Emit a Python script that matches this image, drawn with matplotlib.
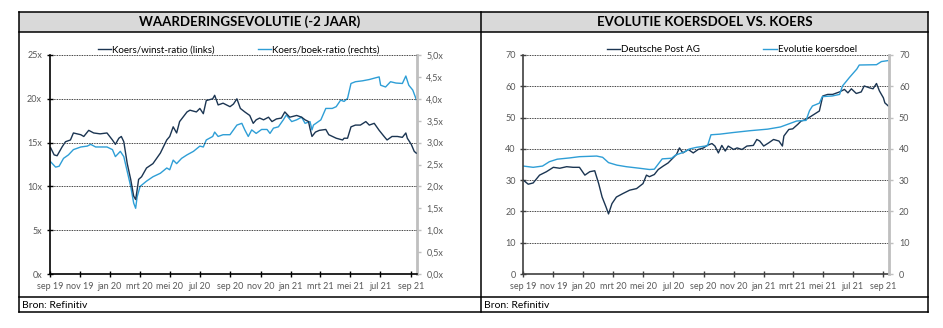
import numpy as np
import pandas as pd
import matplotlib
matplotlib.use("Agg")
import matplotlib.pyplot as plt
import matplotlib.dates as mdates
from matplotlib.lines import Line2D
from matplotlib.patches import Rectangle
from matplotlib.ticker import FuncFormatter, MultipleLocator

matplotlib.rcParams["font.family"] = ["Lato", "DejaVu Sans"]

# --- data ---
pe_dates = ["2019-09-03", "2019-09-10", "2019-09-16", "2019-09-26", "2019-10-03", "2019-10-13",
            "2019-10-19", "2019-11-03", "2019-11-09", "2019-11-19", "2019-11-29", "2019-12-12",
            "2019-12-26", "2020-01-06", "2020-01-12", "2020-01-19", "2020-01-24", "2020-01-29",
            "2020-02-05", "2020-02-12", "2020-02-18", "2020-02-22", "2020-02-25", "2020-02-28",
            "2020-03-05", "2020-03-15", "2020-03-28", "2020-04-12", "2020-04-25", "2020-05-01",
            "2020-05-08", "2020-05-15", "2020-05-21", "2020-06-05", "2020-06-11", "2020-06-24",
            "2020-07-01", "2020-07-08", "2020-07-14", "2020-07-27", "2020-07-31", "2020-08-07",
            "2020-08-17", "2020-08-31", "2020-09-07", "2020-09-14", "2020-09-21", "2020-09-30",
            "2020-10-10", "2020-10-17", "2020-10-23", "2020-10-30", "2020-11-07", "2020-11-17",
            "2020-11-24", "2020-12-03", "2020-12-13", "2020-12-20", "2020-12-30", "2021-01-13",
            "2021-01-23", "2021-01-30", "2021-02-06", "2021-02-09", "2021-02-13", "2021-02-20",
            "2021-02-28", "2021-03-13", "2021-03-19", "2021-04-03", "2021-04-16", "2021-04-19",
            "2021-04-26", "2021-05-03", "2021-05-12", "2021-05-22", "2021-06-02", "2021-06-09",
            "2021-06-19", "2021-06-29", "2021-07-09", "2021-07-15", "2021-07-25", "2021-08-05",
            "2021-08-15", "2021-08-22", "2021-08-25", "2021-09-02", "2021-09-08", "2021-09-12"]
pe_ratio = [14.4, 13.6, 13.5, 14.5, 15.1, 15.3, 16.1, 15.9, 15.7, 16.4, 16.1, 16.0,
            16.1, 15.3, 14.8, 15.5, 15.7, 15.1, 12.6, 10.8, 8.9, 8.5, 9.6, 10.8,
            11.1, 12.1, 12.6, 13.8, 15.3, 15.7, 16.8, 16.1, 17.4, 18.5, 18.7, 18.5,
            18.9, 18.3, 19.8, 20.0, 20.4, 19.3, 19.5, 19.1, 19.4, 20.0, 18.9, 18.5,
            18.1, 17.2, 17.6, 17.8, 17.6, 17.9, 17.4, 17.7, 17.8, 18.5, 17.9, 18.1,
            17.9, 17.6, 17.4, 16.6, 15.7, 16.2, 16.4, 16.5, 15.9, 15.5, 15.3, 15.5,
            15.5, 16.8, 17.0, 17.0, 17.4, 17.0, 17.2, 16.4, 15.7, 15.3, 15.7, 15.7,
            15.6, 16.1, 15.5, 14.8, 14.0, 13.8]

pb_dates = ["2019-09-03", "2019-09-13", "2019-09-20", "2019-09-29", "2019-10-09", "2019-10-19",
            "2019-11-03", "2019-11-16", "2019-11-23", "2019-12-03", "2019-12-12", "2019-12-26",
            "2020-01-06", "2020-01-12", "2020-01-22", "2020-01-29", "2020-02-05", "2020-02-12",
            "2020-02-18", "2020-02-22", "2020-02-25", "2020-03-02", "2020-03-15", "2020-03-28",
            "2020-04-12", "2020-04-25", "2020-05-01", "2020-05-08", "2020-05-15", "2020-05-25",
            "2020-06-05", "2020-06-18", "2020-07-01", "2020-07-08", "2020-07-14", "2020-07-27",
            "2020-07-31", "2020-08-07", "2020-08-17", "2020-08-31", "2020-09-14", "2020-09-24",
            "2020-09-30", "2020-10-07", "2020-10-14", "2020-10-23", "2020-11-03", "2020-11-14",
            "2020-11-20", "2020-11-27", "2020-12-07", "2020-12-17", "2020-12-23", "2021-01-03",
            "2021-01-13", "2021-01-23", "2021-01-30", "2021-02-09", "2021-02-13", "2021-02-16",
            "2021-02-26", "2021-03-03", "2021-03-13", "2021-03-26", "2021-04-03", "2021-04-12",
            "2021-04-19", "2021-04-26", "2021-05-03", "2021-05-12", "2021-05-26", "2021-06-09",
            "2021-06-22", "2021-06-29", "2021-07-02", "2021-07-12", "2021-07-22", "2021-08-02",
            "2021-08-15", "2021-08-22", "2021-08-28", "2021-09-05", "2021-09-10", "2021-09-12"]
pb_ratio = [2.56, 2.44, 2.46, 2.64, 2.72, 2.84, 2.90, 2.92, 2.96, 2.90, 2.90, 2.90,
            2.84, 2.68, 2.80, 2.68, 2.34, 2.00, 1.62, 1.50, 1.76, 2.00, 2.12, 2.22,
            2.30, 2.42, 2.38, 2.60, 2.52, 2.64, 2.72, 2.80, 2.92, 2.90, 3.06, 3.14,
            3.24, 3.14, 3.18, 3.18, 3.40, 3.44, 3.29, 3.14, 3.29, 3.21, 3.30, 3.30,
            3.21, 3.33, 3.36, 3.52, 3.63, 3.48, 3.52, 3.58, 3.44, 3.48, 3.29, 3.40,
            3.48, 3.52, 3.78, 3.78, 3.82, 3.97, 3.94, 4.01, 4.35, 4.39, 4.41, 4.44,
            4.48, 4.50, 4.31, 4.27, 4.39, 4.36, 4.35, 4.52, 4.31, 4.20, 4.05, 3.98]

dp_dates = ["2019-09-01", "2019-09-11", "2019-09-21", "2019-10-04", "2019-10-18", "2019-11-01",
            "2019-11-14", "2019-11-28", "2019-12-11", "2019-12-24", "2020-01-04", "2020-01-14",
            "2020-01-24", "2020-02-01", "2020-02-08", "2020-02-16", "2020-02-21", "2020-02-28",
            "2020-03-08", "2020-03-21", "2020-04-04", "2020-04-18", "2020-05-01", "2020-05-08",
            "2020-05-14", "2020-05-24", "2020-06-01", "2020-06-11", "2020-06-21", "2020-07-01",
            "2020-07-08", "2020-07-14", "2020-07-21", "2020-08-01", "2020-08-11", "2020-08-21",
            "2020-09-01", "2020-09-08", "2020-09-18", "2020-09-24", "2020-10-01", "2020-10-08",
            "2020-10-15", "2020-10-21", "2020-11-01", "2020-11-08", "2020-11-18", "2020-11-28",
            "2020-12-11", "2020-12-18", "2020-12-24", "2021-01-01", "2021-01-11", "2021-01-21",
            "2021-02-01", "2021-02-08", "2021-02-11", "2021-02-21", "2021-03-01", "2021-03-11",
            "2021-03-18", "2021-03-28", "2021-04-08", "2021-04-18", "2021-04-24", "2021-05-01",
            "2021-05-11", "2021-05-21", "2021-06-04", "2021-06-14", "2021-06-21", "2021-06-28",
            "2021-07-08", "2021-07-18", "2021-07-24", "2021-08-04", "2021-08-11", "2021-08-18",
            "2021-08-24", "2021-09-01", "2021-09-04", "2021-09-11"]
dp_price = [30.0, 28.7, 29.1, 31.6, 32.7, 34.1, 33.8, 34.3, 34.1, 34.1, 31.6, 32.7,
            33.0, 28.9, 24.6, 21.4, 19.2, 22.5, 24.6, 25.7, 26.8, 27.3, 28.9, 31.6,
            31.1, 31.8, 33.4, 34.5, 35.5, 37.1, 38.2, 40.3, 38.7, 39.8, 38.7, 39.8,
            40.3, 41.1, 41.7, 40.9, 38.7, 41.1, 39.3, 40.9, 39.8, 40.3, 39.8, 40.9,
            41.1, 43.0, 42.5, 40.9, 41.9, 43.0, 42.5, 40.9, 44.1, 46.2, 46.4, 47.8,
            48.9, 49.4, 50.5, 51.5, 52.1, 56.9, 57.4, 57.4, 58.2, 59.0, 57.9, 59.2,
            57.7, 58.2, 60.1, 59.5, 59.2, 60.9, 58.5, 56.3, 54.7, 53.7]

target_dates = ["2019-09-01", "2019-09-21", "2019-10-10", "2019-10-24", "2019-11-09", "2019-12-04",
                "2019-12-24", "2020-01-28", "2020-02-09", "2020-02-21", "2020-03-09", "2020-03-28",
                "2020-04-24", "2020-05-14", "2020-05-24", "2020-06-09", "2020-06-28", "2020-07-06",
                "2020-07-24", "2020-08-04", "2020-08-18", "2020-09-09", "2020-09-16", "2020-10-04",
                "2020-10-30", "2020-12-04", "2021-01-09", "2021-02-04", "2021-03-09", "2021-03-28",
                "2021-04-04", "2021-04-10", "2021-04-24", "2021-04-30", "2021-05-20", "2021-06-04",
                "2021-06-10", "2021-06-24", "2021-07-09", "2021-07-14", "2021-08-18", "2021-08-28",
                "2021-09-10"]
target_price = [34.5, 34.1, 34.5, 35.9, 36.7, 37.1, 37.5, 37.7, 37.3, 35.6, 34.8, 34.3,
                33.8, 33.4, 33.5, 36.8, 37.0, 38.0, 39.0, 40.0, 40.5, 41.0, 44.5, 44.7,
                45.2, 45.8, 46.3, 47.0, 48.9, 49.1, 52.2, 53.7, 54.6, 56.7, 56.9, 57.4,
                60.1, 62.8, 65.5, 66.8, 66.9, 67.9, 68.2]

DARK = "#1b3552"
LIGHT = "#2e9ed6"
GRAY_TXT = "#595959"
W, H = 943, 328

fig = plt.figure(figsize=(W / 100, H / 100), dpi=100)


def fx(x):
    return x / W


def fy(y):
    return 1 - y / H


# frame, title bands and source rows
for x0, x1, title in [(19, 481, "WAARDERINGSEVOLUTIE (-2 JAAR)"),
                      (481, 928, "EVOLUTIE KOERSDOEL VS. KOERS")]:
    fig.add_artist(Rectangle((fx(x0), fy(32)), fx(x1) - fx(x0), fy(12) - fy(32),
                             transform=fig.transFigure, facecolor="#d9d9d9", edgecolor="none"))
    fig.text(fx((x0 + x1) / 2), fy(22), title, ha="center", va="center",
             fontsize=9.5, fontweight="bold", color="black")
    fig.text(fx(x0 + 3), fy(305), "Bron: Refinitiv", ha="left", va="center",
             fontsize=7.5, color="black")
for y in [12, 32, 297, 312]:
    fig.add_artist(Line2D([fx(19), fx(928)], [fy(y), fy(y)], transform=fig.transFigure,
                          color="black", lw=1.1))
for x in [19, 481, 928]:
    fig.add_artist(Line2D([fx(x), fx(x)], [fy(12), fy(312)], transform=fig.transFigure,
                          color="black", lw=1.1))

month_nl = {1: "jan", 3: "mrt", 5: "mei", 7: "jul", 9: "sep", 11: "nov"}


def date_fmt(v, pos):
    d = mdates.num2date(v)
    return f"{month_nl.get(d.month, '')} {d.strftime('%y')}"


def style_axes(ax, ax2, left_color):
    ax.set_xlim(pd.Timestamp("2019-09-01"), pd.Timestamp("2021-09-13"))
    ax.xaxis.set_major_locator(mdates.MonthLocator(bymonth=[1, 3, 5, 7, 9, 11], bymonthday=1))
    ax.xaxis.set_major_formatter(FuncFormatter(date_fmt))
    ax.spines["top"].set_visible(False)
    ax.spines["right"].set_visible(False)
    ax2.spines["top"].set_visible(False)
    ax2.spines["left"].set_visible(False)
    ax2.spines["bottom"].set_visible(False)
    ax.spines["left"].set_color(left_color)
    ax.spines["bottom"].set_color(left_color)
    ax.spines["left"].set_linewidth(1.2)
    ax.spines["bottom"].set_linewidth(1.2)
    ax2.spines["right"].set_color("#bfbfbf")
    ax2.spines["right"].set_linewidth(2)
    ax.tick_params(axis="x", direction="inout", length=5, width=1, color=left_color,
                   labelsize=6.5, labelcolor=GRAY_TXT, pad=3)
    ax.tick_params(axis="y", direction="inout", length=5, width=1, color=left_color,
                   labelsize=6.5, labelcolor=GRAY_TXT, pad=3)
    ax2.tick_params(axis="y", direction="out", length=3, width=1, color="#bfbfbf",
                    labelsize=6.5, labelcolor=GRAY_TXT, pad=4)
    ax.grid(axis="y", linestyle=(0, (1, 1)), color="black", lw=0.6)
    ax.set_axisbelow(True)


# left panel: valuation ratios
ax1 = fig.add_axes([fx(49.7), fy(274), fx(416.7) - fx(49.7), fy(55) - fy(274)])
ax1b = ax1.twinx()
l1, = ax1.plot(pd.to_datetime(pe_dates), pe_ratio, color=DARK, lw=1.0, label="Koers/winst-ratio (links)")
l2, = ax1b.plot(pd.to_datetime(pb_dates), pb_ratio, color=LIGHT, lw=1.0, label="Koers/boek-ratio (rechts)")
ax1.set_zorder(ax1b.get_zorder() + 1)
ax1.patch.set_visible(False)
ax1.set_ylim(0, 25)
ax1b.set_ylim(0, 5)
ax1.yaxis.set_major_locator(MultipleLocator(5))
ax1b.yaxis.set_major_locator(MultipleLocator(0.5))
ax1.yaxis.set_major_formatter(FuncFormatter(lambda v, p: f"{v:.0f}x"))
ax1b.yaxis.set_major_formatter(FuncFormatter(lambda v, p: f"{v:.1f}x".replace(".", ",")))
style_axes(ax1, ax1b, "black")
ax1.legend([l1, l2], [l1.get_label(), l2.get_label()], loc="lower center",
           bbox_to_anchor=(0.515, 0.985), ncol=2, frameon=False, fontsize=7,
           handlelength=1.4, handletextpad=0.1, columnspacing=4.4, borderaxespad=0)

# right panel: target price vs share price
ax2 = fig.add_axes([fx(523.3), fy(274), fx(889.3) - fx(523.3), fy(55) - fy(274)])
ax2b = ax2.twinx()
l3, = ax2.plot(pd.to_datetime(dp_dates), dp_price, color=DARK, lw=1.0, label="Deutsche Post AG")
l4, = ax2.plot(pd.to_datetime(target_dates), target_price, color=LIGHT, lw=1.0, label="Evolutie koersdoel")
ax2.set_ylim(0, 70)
ax2b.set_ylim(0, 70)
ax2.yaxis.set_major_locator(MultipleLocator(10))
ax2b.yaxis.set_major_locator(MultipleLocator(10))
style_axes(ax2, ax2b, "#404040")
ax2.legend([l3, l4], [l3.get_label(), l4.get_label()], loc="lower center",
           bbox_to_anchor=(0.57, 0.985), ncol=2, frameon=False, fontsize=7,
           handlelength=1.4, handletextpad=0.1, columnspacing=6.5, borderaxespad=0)

fig.savefig("out.png", dpi=100)
